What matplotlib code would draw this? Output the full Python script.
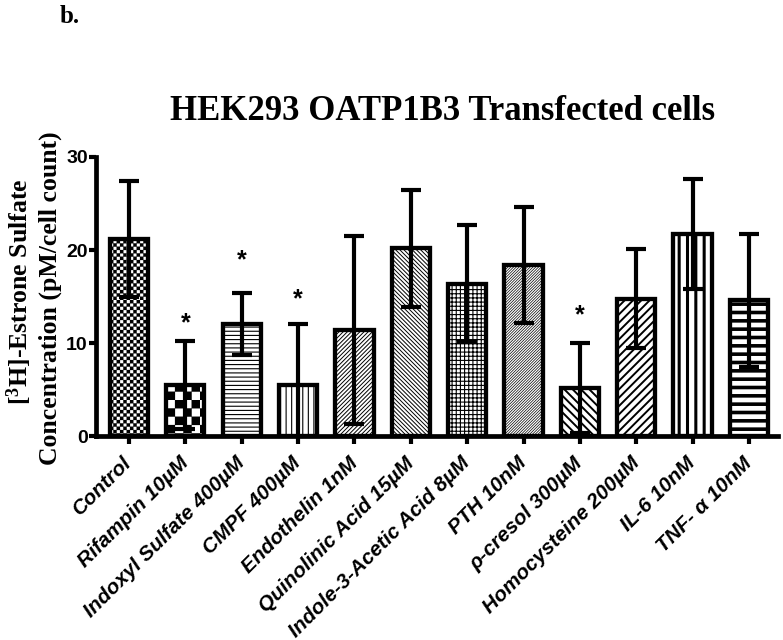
import warnings

import matplotlib
matplotlib.use("Agg")
import matplotlib.hatch as mhatch
import matplotlib.pyplot as plt
import numpy as np
from matplotlib.path import Path

warnings.filterwarnings("ignore", message=".*hatch must consist.*")

# data
labels = ["Control", "Rifampin 10µM", "Indoxyl Sulfate 400µM", "CMPF 400µM",
          "Endothelin 1nM", "Quinolinic Acid 15µM", "Indole-3-Acetic Acid 8µM",
          "PTH 10nM", "ρ-cresol 300µM", "Homocysteine 200µM", "IL-6 10nM",
          "TNF- α 10nM"]
means = [21.2, 5.5, 12.1, 5.5, 11.4, 20.2, 16.4, 18.4, 5.2, 14.8, 21.7, 14.6]
sds = [6.2, 4.7, 3.35, 6.6, 10.1, 6.3, 6.25, 6.2, 4.8, 5.3, 5.9, 7.1]
star_idx = [1, 2, 3, 8]
star_y = [13.0, 19.7, 15.5, 13.8]

# fill pattern per bar, and hatch line width
hatches = ["ccccc", "cc", "----", "|||", "/" * 8, "\\" * 8, "++++", "/" * 12,
           "\\" * 4, "////", "||", "--"]
hatch_lw = [0.15, 0.15, 0.8, 0.8, 0.7, 0.7, 0.8, 0.5, 1.4, 1.4, 2.2, 2.6]


# checkerboard fill, used by the 'c' hatch character
class CheckerHatch(mhatch.HatchPatternBase):
    def __init__(self, hatch, density):
        self.n = hatch.count("c") * density
        self.num_vertices = (self.n * self.n // 2) * 5

    def set_vertices_and_codes(self, vertices, codes):
        n = self.n
        s = 1.0 / n
        k = 0
        for i in range(n):
            for j in range(n):
                if (i + j) % 2:
                    continue
                x0, y0 = i * s, j * s
                vertices[k:k + 5] = [(x0, y0), (x0 + s, y0), (x0 + s, y0 + s),
                                     (x0, y0 + s), (x0, y0)]
                codes[k:k + 5] = [Path.MOVETO, Path.LINETO, Path.LINETO,
                                  Path.LINETO, Path.CLOSEPOLY]
                k += 5

    get_vertices_and_codes = set_vertices_and_codes


mhatch._hatch_types.append(CheckerHatch)

plt.rcParams["hatch.color"] = "black"
plt.rcParams["mathtext.fontset"] = "custom"
plt.rcParams["mathtext.rm"] = "Liberation Serif:bold"
plt.rcParams["mathtext.default"] = "rm"

fig = plt.figure(figsize=(7.83, 6.4), dpi=100)
ax = fig.add_axes([96 / 783, 0.318, (778 - 96) / 783, 0.4367])

x = np.arange(len(labels))
bars = ax.bar(x, means, width=0.68, color="white", edgecolor="black",
              linewidth=3.1, zorder=2)
for b, h, lw in zip(bars, hatches, hatch_lw):
    b.set_hatch(h)
    if hasattr(b, "set_hatch_linewidth"):
        b.set_hatch_linewidth(lw)

ax.errorbar(x, means, yerr=sds, fmt="none", ecolor="black", elinewidth=3,
            capsize=7.5, capthick=3, zorder=3)

for i, yv in zip(star_idx, star_y):
    ax.annotate("*", (x[i], yv), xytext=(0, -10.5), textcoords="offset points",
                ha="center", va="baseline", fontsize=18, fontweight="bold",
                family="Liberation Sans")

ax.set_xlim(-0.585, 11.515)
ax.set_ylim(0, 30)
ax.set_yticks([0, 10, 20, 30])
ax.set_xticks(x)
ax.set_xticklabels(labels, rotation=45, ha="right", va="center",
                   rotation_mode="anchor", fontsize=15, fontweight="bold",
                   fontstyle="italic", family="Liberation Sans")
for t in ax.get_yticklabels():
    t.set_fontsize(14)
    t.set_fontweight("bold")
    t.set_family("Liberation Sans")

for side in ("top", "right"):
    ax.spines[side].set_visible(False)
for side in ("left", "bottom"):
    ax.spines[side].set_linewidth(3.4)
ax.tick_params(axis="x", length=6, width=3, pad=11)
ax.tick_params(axis="y", length=5, width=3, pad=1)

fig.text(443 / 783, 1 - 111 / 640, "HEK293 OATP1B3 Transfected cells",
         ha="center", va="center", fontsize=25, fontweight="bold",
         family="Liberation Serif")
fig.text(60 / 783, 1 - 23 / 640, "b.", ha="left", va="baseline", fontsize=18,
         fontweight="bold", family="Liberation Serif")
fig.text(19 / 783, 1 - 292 / 640, "[$^{3}$H]-Estrone Sulfate", rotation=90,
         ha="center", va="center", fontsize=18.5, fontweight="bold",
         family="Liberation Serif")
fig.text(50 / 783, 1 - 298 / 640, "Concentration (pM/cell count)", rotation=90,
         ha="center", va="center", fontsize=18.5, fontweight="bold",
         family="Liberation Serif")

fig.savefig("out.png", dpi=100)
